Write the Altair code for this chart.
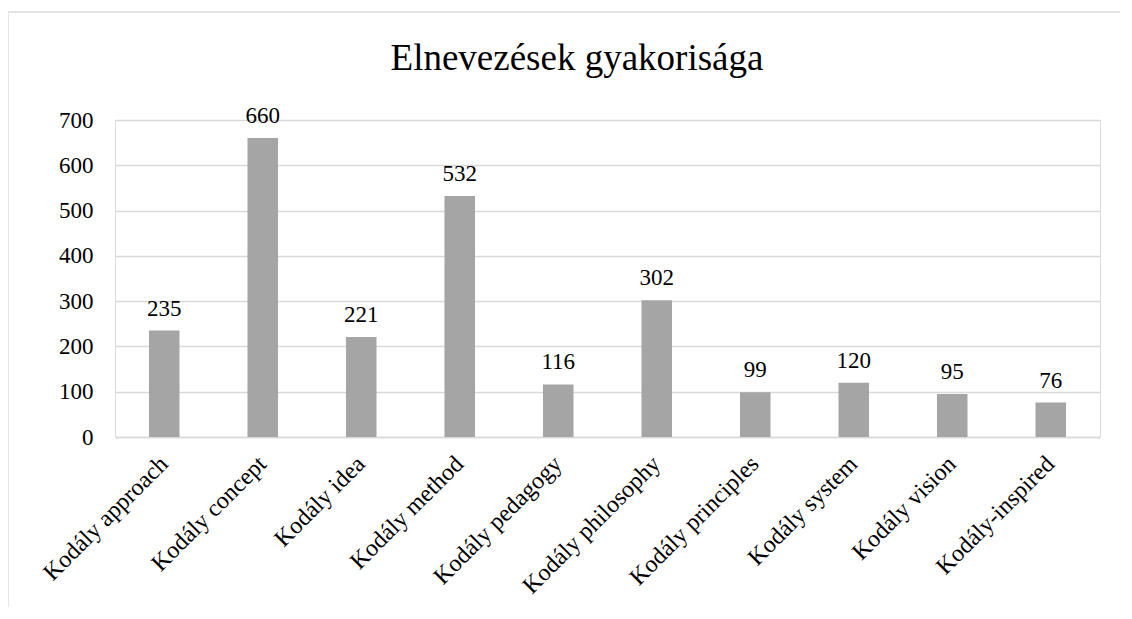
import altair as alt
import pandas as pd

categories = ["Kodály approach", "Kodály concept", "Kodály idea", "Kodály method",
              "Kodály pedagogy", "Kodály philosophy", "Kodály principles",
              "Kodály system", "Kodály vision", "Kodály-inspired"]
values = [235, 660, 221, 532, 116, 302, 99, 120, 95, 76]
y_ticks = [0, 100, 200, 300, 400, 500, 600, 700]
title_text = ["Elnevezések gyakorisága"]

df = pd.DataFrame({"cat": categories, "val": values})
FONT = "Liberation Serif"

x_enc = alt.X("cat:N", sort=categories, title=None,
              scale=alt.Scale(paddingInner=0.69, paddingOuter=0.345),
              axis=alt.Axis(labelAngle=-45, labelAlign="right", labelBaseline="middle",
                            labelFont=FONT, labelFontSize=24, labelColor="#000000",
                            labelPadding=23, labelLimit=400, ticks=False,
                            domainColor="#D9D9D9", domainWidth=1.3, grid=False))
y_enc = alt.Y("val:Q", title=None,
              scale=alt.Scale(domain=[0, 700], nice=False),
              axis=alt.Axis(values=y_ticks, labelFont=FONT, labelFontSize=23,
                            labelColor="#000000", labelPadding=22, ticks=False,
                            domain=False, gridColor="#D9D9D9", gridWidth=1.3))

base = alt.Chart(df)
bars = base.mark_bar(color="#A5A5A5").encode(x=x_enc, y=y_enc)
labels = base.mark_text(font=FONT, fontSize=23, color="#000000",
                        baseline="alphabetic", dy=-15).encode(
    x=alt.X("cat:N", sort=categories), y="val:Q", text="val:Q")

title_df = pd.DataFrame({"t": title_text})
title = alt.Chart(title_df).mark_text(font=FONT, fontSize=37, color="#000000",
                                      baseline="alphabetic", align="center").encode(
    x=alt.value(462), y=alt.value(-50), text="t:N")

border_df = pd.DataFrame({"k": [0]})
left_border = alt.Chart(border_df).mark_rule(color="#D9D9D9", strokeWidth=1.3).encode(
    x=alt.value(-107), x2=alt.value(-107), y=alt.value(-108), y2=alt.value(520))
top_border = alt.Chart(border_df).mark_rule(color="#D9D9D9", strokeWidth=1.3).encode(
    x=alt.value(-107), x2=alt.value(1030), y=alt.value(-108), y2=alt.value(-108))

chart = alt.layer(bars, labels, title, left_border, top_border).properties(
    width=985, height=317,
    autosize=alt.AutoSizeParams(type="none"),
    padding={"left": 107, "top": 112, "right": 20, "bottom": 170},
).configure_view(stroke=None).configure(background="#FFFFFF")

chart.save("out.html", embed_options={"renderer": "svg", "actions": False})
